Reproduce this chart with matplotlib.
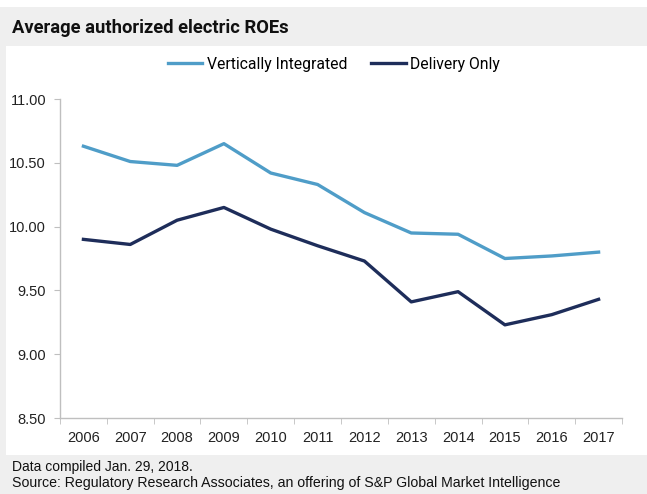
import numpy as np
import matplotlib.pyplot as plt
from matplotlib.patches import Rectangle

years = ["2006", "2007", "2008", "2009", "2010", "2011",
         "2012", "2013", "2014", "2015", "2016", "2017"]
vertically_integrated = [10.63, 10.51, 10.48, 10.65, 10.42, 10.33,
                         10.11, 9.95, 9.94, 9.75, 9.77, 9.80]
delivery_only = [9.90, 9.86, 10.05, 10.15, 9.98, 9.85,
                 9.73, 9.41, 9.49, 9.23, 9.31, 9.43]

plt.rcParams['font.family'] = ['Liberation Sans', 'DejaVu Sans']

fig = plt.figure(figsize=(6.47, 4.94), dpi=100, facecolor="#efefef")
W, H = 647, 494

# white top strip and white chart panel
fig.patches.append(Rectangle((0, 1 - 7 / H), 1, 7 / H, transform=fig.transFigure,
                             facecolor="white", edgecolor="none", zorder=-10))
fig.patches.append(Rectangle((6 / W, 1 - 455 / H), 1 - 6 / W, (455 - 46) / H,
                             transform=fig.transFigure, facecolor="white",
                             edgecolor="none", zorder=-10))

ax = fig.add_axes([60 / W, 1 - 418 / H, (622 - 60) / W, (418 - 99) / H])
ax.set_facecolor("none")

x = np.arange(len(years))
ax.plot(x, vertically_integrated, color="#4f9dc8", lw=2.4, label="Vertically Integrated",
        solid_joinstyle="round")
ax.plot(x, delivery_only, color="#1e2d5a", lw=2.4, label="Delivery Only",
        solid_joinstyle="round")

ax.set_xlim(-0.5, len(years) - 0.5)
ax.set_ylim(8.5, 11.0)
yt = np.arange(8.5, 11.01, 0.5)
ax.set_yticks(yt)
ax.set_yticklabels([f"{v:.2f}" for v in yt], fontsize=10.5)
ax.set_xticks(x)
ax.set_xticklabels(years, fontsize=10.5)
ax.set_xticks(np.arange(-0.5, len(years)), minor=True)
ax.tick_params(axis="x", which="major", length=0, pad=9, labelcolor="#222222")
ax.tick_params(axis="x", which="minor", length=4, color="#bfbfbf", direction="out")
ax.tick_params(axis="y", length=4, color="#bfbfbf", direction="out", pad=6,
               labelcolor="#222222")

for s in ["top", "right"]:
    ax.spines[s].set_visible(False)
for s in ["left", "bottom"]:
    ax.spines[s].set_color("#bfbfbf")
    ax.spines[s].set_linewidth(1)

fig.legend(loc="center", bbox_to_anchor=(334 / W, 1 - 64 / H), ncol=2, frameon=False,
           prop={"family": ["Roboto", "DejaVu Sans"], "size": 11.3},
           handlelength=2.2, handletextpad=0.3, columnspacing=1.5)

fig.text(12 / W, 1 - 28 / H, "Average authorized electric ROEs", fontsize=13.2,
         fontweight="bold", va="center", ha="left", color="#111111",
         family=["Roboto", "DejaVu Sans"])
fig.text(12 / W, 1 - 467 / H, "Data compiled Jan. 29, 2018.", fontsize=10,
         va="center", ha="left", color="#111111")
fig.text(12 / W, 1 - 483 / H,
         "Source: Regulatory Research Associates, an offering of S&P Global Market Intelligence",
         fontsize=10.2, va="center", ha="left", color="#111111")

fig.savefig("out.png", dpi=100, facecolor=fig.get_facecolor())
